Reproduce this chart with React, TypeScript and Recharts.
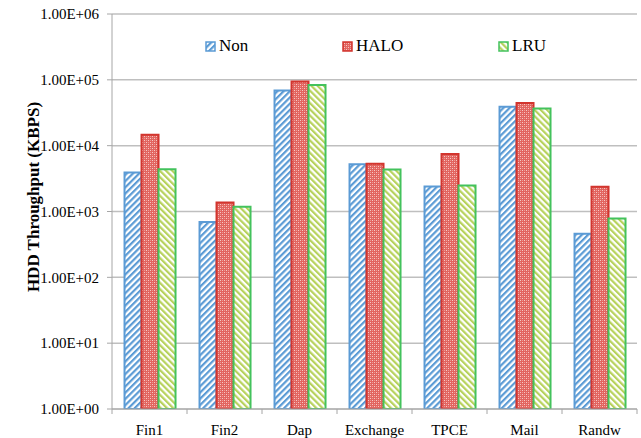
import React from 'react';
import { BarChart, Bar, XAxis, YAxis, CartesianGrid, Legend } from 'recharts';

const categories = ['Fin1', 'Fin2', 'Dap', 'Exchange', 'TPCE', 'Mail', 'Randw'];
const nonValues = [3900, 690, 69000, 5200, 2400, 39000, 460];
const haloValues = [14600, 1370, 94500, 5300, 7450, 44400, 2370];
const lruValues = [4400, 1180, 83500, 4350, 2480, 36800, 780];
const yTicks = [1, 10, 100, 1000, 10000, 100000, 1000000];

const data = categories.map((name, i) => ({
  name,
  Non: nonValues[i],
  HALO: haloValues[i],
  LRU: lruValues[i],
}));

const FONT = '"Liberation Serif", "Times New Roman", serif';

const series = [
  { key: 'Non', stroke: '#5B9BD5', pattern: 'non' },
  { key: 'HALO', stroke: '#D2352E', pattern: 'halo' },
  { key: 'LRU', stroke: '#43C25C', pattern: 'lru' },
];

// hatch / dot fills shared by bars and legend swatches
function Patterns({ prefix }: { prefix: string }) {
  return (
    <defs>
      <pattern id={`${prefix}-non`} patternUnits="userSpaceOnUse" width="4.4" height="4.4" patternTransform="rotate(45)">
        <rect width="4.4" height="4.4" fill="#ffffff" />
        <rect width="2.2" height="4.4" fill="#5B9BD5" />
      </pattern>
      <pattern id={`${prefix}-halo`} patternUnits="userSpaceOnUse" width="4" height="4">
        <rect width="4" height="4" fill="#E2645F" />
        <rect x="0" y="0" width="1" height="1" fill="#F6C9C6" />
        <rect x="2" y="2" width="1" height="1" fill="#F6C9C6" />
        <rect x="2" y="0" width="1" height="1" fill="#EC9995" />
        <rect x="0" y="2" width="1" height="1" fill="#EC9995" />
      </pattern>
      <pattern id={`${prefix}-lru`} patternUnits="userSpaceOnUse" width="4.4" height="4.4" patternTransform="rotate(-45)">
        <rect width="4.4" height="4.4" fill="#ffffff" />
        <rect width="2.2" height="4.4" fill="#B7D25C" />
      </pattern>
    </defs>
  );
}

const formatExp = (v: number) => {
  const e = Math.round(Math.log10(v));
  const m = v / Math.pow(10, e);
  return `${m.toFixed(2)}E+${String(e).padStart(2, '0')}`;
};

function CategoryTick(props: any) {
  const { x, y, payload, index, visibleTicksCount } = props;
  const half = payload && payload.offset ? payload.offset : 37.5;
  const last = index === (visibleTicksCount ?? categories.length) - 1;
  return (
    <g>
      <line x1={x - half} y1={y} x2={x - half} y2={y + 5} stroke="#A6A6A6" strokeWidth={1} />
      {last && <line x1={x + half} y1={y} x2={x + half} y2={y + 5} stroke="#A6A6A6" strokeWidth={1} />}
      <text x={x} y={y + 26} textAnchor="middle" fontFamily={FONT} fontSize={15} fill="#000">
        {payload.value}
      </text>
    </g>
  );
}

function LegendContent() {
  const widths = [137, 156, 60];
  return (
    <div style={{ display: 'flex', alignItems: 'center', fontFamily: FONT, fontSize: 17, color: '#000' }}>
      {series.map((s, i) => (
        <div key={s.key} style={{ display: 'flex', alignItems: 'center', width: widths[i] }}>
          <svg width={11} height={11} style={{ marginRight: 3 }}>
            <Patterns prefix={`lg${i}`} />
            <rect x={1} y={1} width={9} height={9} fill={`url(#lg${i}-${s.pattern})`} stroke={s.stroke} strokeWidth={1.5} />
          </svg>
          <span>{s.key}</span>
        </div>
      ))}
    </div>
  );
}

export default function App() {
  return (
    <div style={{ position: 'absolute', left: 0, top: 0, width: 641, height: 438, background: '#fff' }}>
      <BarChart
        width={641}
        height={438}
        data={data}
        margin={{ top: 14, right: 4, bottom: 0, left: 0 }}
        barCategoryGap="16.7%"
        barGap={0}
      >
        <Patterns prefix="bar" />
        <CartesianGrid vertical={false} stroke="#BFBFBF" strokeWidth={1.5} />
        <XAxis
          dataKey="name"
          height={29}
          axisLine={{ stroke: '#A6A6A6' }}
          tickLine={false}
          tickSize={0}
          tickMargin={0}
          interval={0}
          tick={<CategoryTick />}
        />
        <YAxis
          scale="log"
          domain={[1, 1000000]}
          ticks={yTicks}
          allowDataOverflow
          width={112}
          axisLine={{ stroke: '#A6A6A6' }}
          tickLine={{ stroke: '#A6A6A6' }}
          tickSize={5}
          tickMargin={8}
          tickFormatter={formatExp}
          tick={{ fontFamily: FONT, fontSize: 15, fill: '#000' }}
          label={{
            content: () => (
              <text
                x={33}
                y={197}
                transform="rotate(-90 33 197)"
                textAnchor="middle"
                dominantBaseline="central"
                fontFamily={FONT}
                fontWeight="bold"
                fontSize={17}
                fill="#000"
              >
                HDD Throughput (KBPS)
              </text>
            ),
          }}
        />
        <Legend
          layout="horizontal"
          verticalAlign="middle"
          align="center"
          wrapperStyle={{ position: 'absolute', top: 36, left: 205, width: 360 }}
          content={<LegendContent />}
        />
        {series.map((s) => (
          <Bar
            key={s.key}
            dataKey={s.key}
            fill={`url(#bar-${s.pattern})`}
            stroke={s.stroke}
            strokeWidth={2}
            isAnimationActive={false}
          />
        ))}
      </BarChart>
    </div>
  );
}
